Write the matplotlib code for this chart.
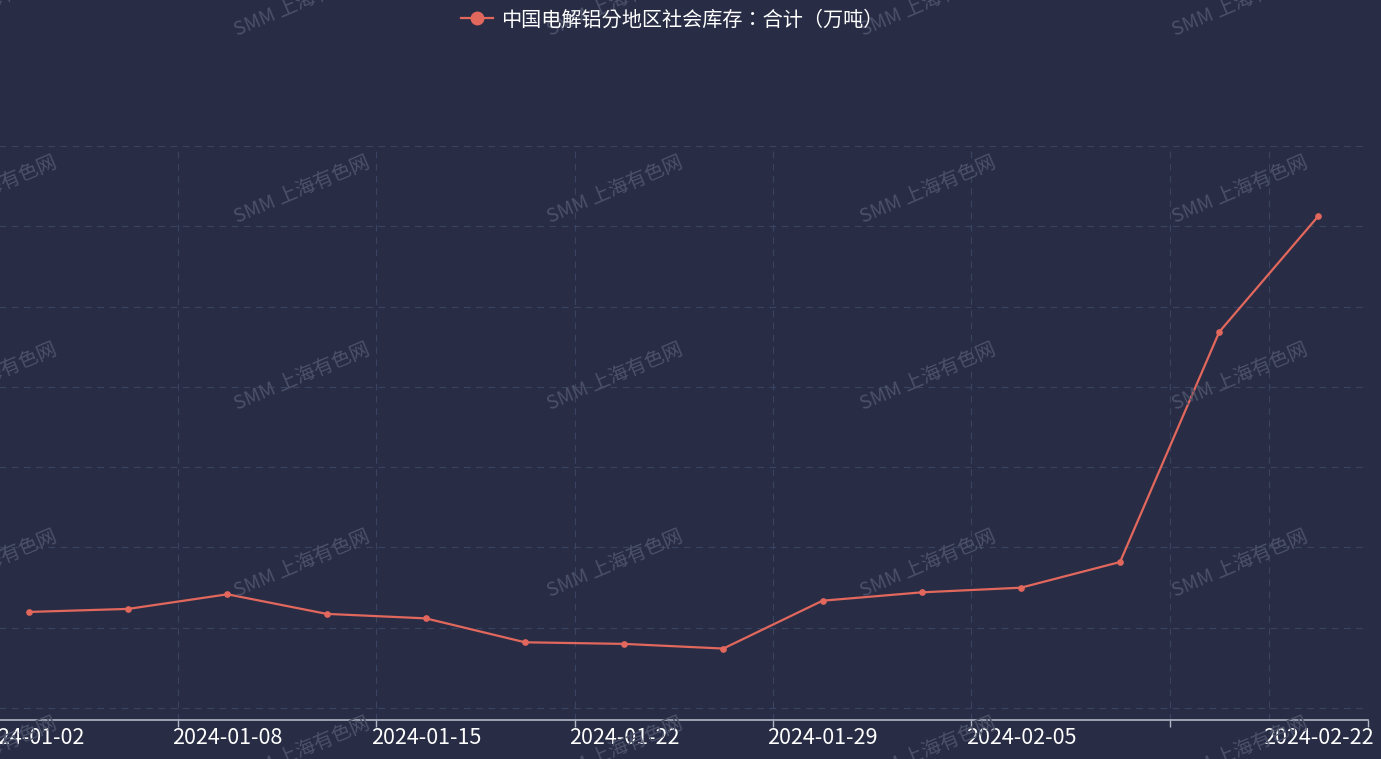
import numpy as np
import matplotlib as mpl
import matplotlib.pyplot as plt
from matplotlib.lines import Line2D

plt.rcParams['font.family'] = ['Noto Sans CJK SC', 'DejaVu Sans']

dates = ['2024-01-02', '2024-01-04', '2024-01-08', '2024-01-11', '2024-01-15',
         '2024-01-18', '2024-01-22', '2024-01-25', '2024-01-29', '2024-02-01',
         '2024-02-05', '2024-02-08', '2024-02-19', '2024-02-22']
stock = [45.98, 46.17, 47.08, 45.86, 45.58, 44.09, 43.99, 43.70,
         46.68, 47.20, 47.49, 49.09, 63.42, 70.64]
series_name = '中国电解铝分地区社会库存：合计（万吨）'
label_idx = [0, 2, 4, 6, 8, 10, 13]

BG = '#282d45'
LINE = '#e2675d'
GRID = '#3a4462'
AXIS = '#b4b7c6'
W, H = 1381, 759

fig = plt.figure(figsize=(W / 100, H / 100), dpi=100, facecolor=BG)
left, right, top, bottom = -20.5, 1368, 146, 720
ax = fig.add_axes([left / W, 1 - bottom / H, (right - left) / W, (bottom - top) / H])
ax.set_facecolor(BG)

x = np.arange(len(dates))
ax.set_xlim(-0.5, len(dates) - 0.5)
ax.set_ylim(39.25, 75)

# grid
for y in np.arange(40, 76, 5):
    ax.axhline(y, color=GRID, lw=0.8, ls=(0, (6, 5)), zorder=1)
vgrid = [1.5, 3.5, 5.5, 7.5, 9.5, 11.5, 12.5, 13.5]
for v in vgrid:
    ax.axvline(v, color=GRID, lw=0.8, ls=(0, (6, 5)), zorder=1)

ax.plot(x, stock, color=LINE, lw=1.6, marker='o', markersize=3.8, zorder=3)

for s in ['top', 'right', 'left']:
    ax.spines[s].set_visible(False)
ax.spines['bottom'].set_color(AXIS)
ax.spines['bottom'].set_linewidth(1.2)

ax.set_yticks([])
ax.set_xticks([1.5, 3.5, 5.5, 7.5, 9.5, 11.5, 13.5])
ax.set_xticklabels([])
ax.tick_params(axis='x', length=5, width=1, color=AXIS)
for i in label_idx:
    ax.text(x[i], -0.013, dates[i], transform=ax.get_xaxis_transform(),
            ha='center', va='top', color='white', fontsize=15.5)

# watermark
for cx in [-11, 302, 615, 928, 1240]:
    for cy in [3, 190, 377, 564, 751]:
        fig.text(cx / W, 1 - cy / H, 'SMM 上海有色网', color='#4c5269',
                 fontsize=14, rotation=23, ha='center', va='center',
                 rotation_mode='anchor', zorder=0)

handle = Line2D([], [], color=LINE, lw=1.6, marker='o', markersize=9)
fig.legend([handle], [series_name], loc='center', bbox_to_anchor=(672 / W, 1 - 20 / H),
           frameon=False, handlelength=1.6, handletextpad=0.4, labelcolor='white',
           prop={'family': ['Noto Sans CJK TC', 'DejaVu Sans'], 'size': 14.5})

fig.savefig('out.png', dpi=100, facecolor=BG)
